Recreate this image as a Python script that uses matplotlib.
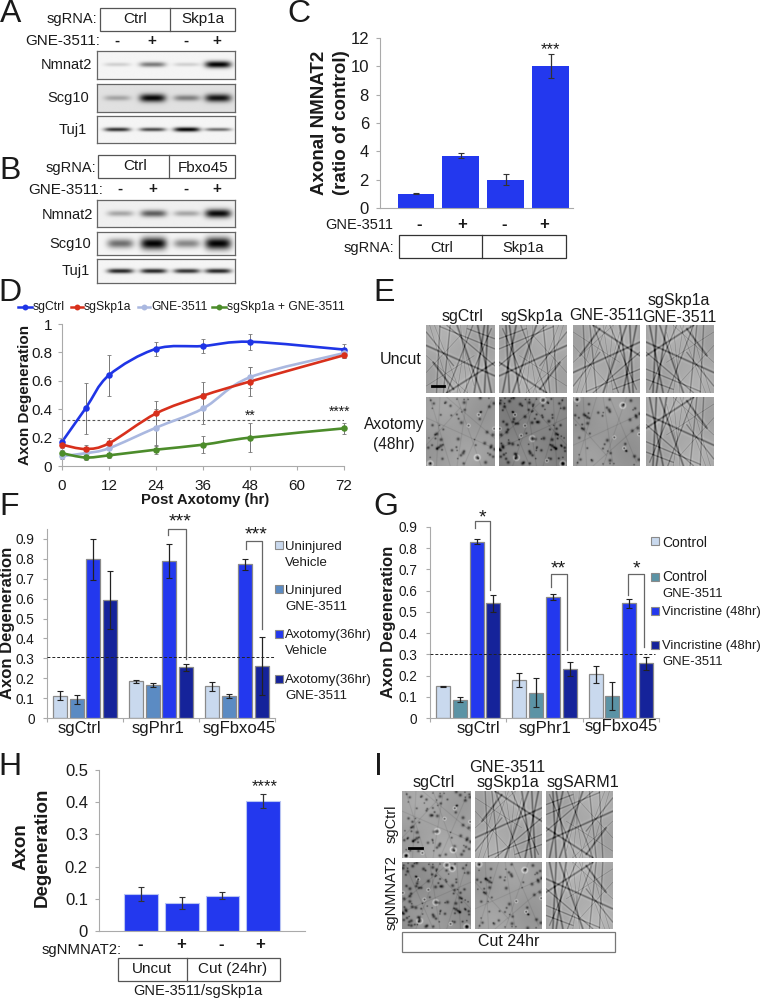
import matplotlib
matplotlib.use('Agg')
import matplotlib.pyplot as plt
import numpy as np
from matplotlib.path import Path
from matplotlib.patches import PathPatch, Rectangle

plt.rcParams['font.family'] = ['Liberation Sans', 'DejaVu Sans']

W, H = 762, 1000
BLUE = '#2338ee'
NAVY = '#15239a'
PALE = '#c9d9ee'
STEEL = '#5b8bc3'
TEAL = '#5b93a5'

# panel C
c_vals = [1, 3.7, 2, 10]
c_errs = [0.03, 0.15, 0.4, 0.85]
c_signs = ['-', '+', '-', '+']

# panel D
d_hours = [0, 6, 12, 24, 36, 48, 72]
d_ctrl = [0.17, 0.405, 0.64, 0.825, 0.845, 0.875, 0.82]
d_ctrl_err = [0.02, 0.18, 0.145, 0.05, 0.05, 0.055, 0.04]
d_skp = [0.15, 0.12, 0.16, 0.37, 0.495, 0.595, 0.78]
d_skp_err = [0.02, 0.03, 0.035, 0.09, 0.095, 0.1, 0.02]
d_gne = [0.07, 0.09, 0.125, 0.27, 0.405, 0.625, 0.795]
d_gne_err = [0.02, 0.03, 0.05, 0.13, 0.11, 0.075, 0.035]
d_both = [0.09, 0.06, 0.075, 0.115, 0.15, 0.2, 0.265]
d_both_err = [0.02, 0.02, 0.02, 0.03, 0.06, 0.1, 0.04]

# panel F
f_vals = [[0.113, 0.093, 0.797, 0.592], [0.185, 0.165, 0.79, 0.255], [0.16, 0.113, 0.772, 0.26]]
f_errs = [[0.022, 0.024, 0.105, 0.147], [0.007, 0.009, 0.085, 0.017], [0.022, 0.01, 0.028, 0.145]]

# panel G
g_vals = [[0.15, 0.087, 0.83, 0.54], [0.18, 0.12, 0.57, 0.233], [0.205, 0.105, 0.54, 0.258]]
g_errs = [[0.003, 0.012, 0.012, 0.04], [0.033, 0.068, 0.015, 0.033], [0.04, 0.065, 0.023, 0.03]]

# panel H
h_vals = [0.115, 0.087, 0.11, 0.405]
h_errs = [0.022, 0.02, 0.012, 0.022]

# blot band strength, 0 to 1, one value per lane
a_nmnat = [0.15, 0.5, 0.15, 1.0]
a_scg = [0.25, 0.9, 0.4, 0.85]
a_tuj = [0.8, 0.7, 1.0, 0.55]
b_nmnat = [0.3, 0.6, 0.3, 0.95]
b_scg = [0.55, 1.0, 0.45, 1.0]
b_tuj = [0.85, 0.85, 0.8, 0.85]

fig = plt.figure(figsize=(W / 100, H / 100), dpi=100, facecolor='white')


def px_axes(x0, y0, x1, y1, z=1):
    return fig.add_axes([x0 / W, 1 - y1 / H, (x1 - x0) / W, (y1 - y0) / H], zorder=z)


ov = px_axes(0, 0, W, H, z=10)
ov.set_xlim(0, W)
ov.set_ylim(H, 0)
ov.axis('off')
ov.patch.set_alpha(0)


def txt(x, y, s, size=10.5, ha='center', va='center', **kw):
    ov.text(x, y, s, fontsize=size, ha=ha, va=va, color=kw.pop('color', '#1a1a1a'), **kw)


def box(x0, y0, x1, y1, div=None, ec='#555555'):
    ov.add_patch(Rectangle((x0, y0), x1 - x0, y1 - y0, fc='white', ec=ec, lw=0.9))
    if div is not None:
        ov.plot([div, div], [y0, y1], color=ec, lw=0.9)


def blot(x0, y0, x1, y1, lanes, strengths, band_h=0.1, band_w=13, bg=0.96):
    ax = px_axes(x0, y0, x1, y1, z=2)
    xx, yy = np.meshgrid(np.arange(x0, x1, 0.5), np.linspace(0, 1, 80))
    img = np.full(xx.shape, bg)
    for cx, s in zip(lanes, strengths):
        prof = np.exp(-((xx - cx) / band_w) ** 4) * np.exp(-((yy - 0.5) / (band_h * (0.6 + 0.6 * s))) ** 2)
        img -= s * prof * 0.95
    ax.imshow(np.clip(img, 0, 1), cmap='gray', vmin=0, vmax=1, aspect='auto')
    ax.set_xticks([])
    ax.set_yticks([])
    for sp in ax.spines.values():
        sp.set_color('#666666')
        sp.set_linewidth(0.9)


# fibre pattern for the micrographs, in panel units
FIBRES = [(0.05, 0, 0.35, 1), (0.2, 0, 0.15, 1), (0.45, 0, 0.8, 1), (0.6, 0, 0.45, 1), (0.95, 0.05, 0.55, 1),
          (0, 0.3, 1, 0.75), (0, 0.7, 0.5, 0.15), (0.3, 0, 1, 0.6), (0.75, 0, 0.95, 1), (0, 0.9, 0.7, 0.45),
          (1, 0.2, 0.6, 0.05), (0.1, 0.55, 0.4, 0.95), (0.55, 0.35, 0.7, 0.9), (0.35, 0, 0.25, 1),
          (0.85, 0, 0.7, 1), (0.5, 0, 0.6, 1), (0, 0.1, 0.4, 0.6), (1, 0.55, 0.3, 1),
          (0.12, 0, 0.5, 1), (0.68, 0, 0.3, 1), (0.9, 0, 0.85, 1), (0, 0.45, 0.6, 1), (1, 0.35, 0.2, 0.02)]


def seg_dist(xx, yy, a, b, c, d):
    dx, dy = c - a, d - b
    t = np.clip(((xx - a) * dx + (yy - b) * dy) / (dx * dx + dy * dy), 0, 1)
    return np.hypot(xx - a - t * dx, yy - b - t * dy)


def micro(x0, y0, x1, y1, kind, flip=(1, 1), base=0.62, n=70):
    ax = px_axes(x0, y0, x1, y1, z=2)
    xx, yy = np.meshgrid(np.linspace(0, 1, 136), np.linspace(0, 1, 136))
    if flip[0] < 0:
        xx = 1 - xx
    if flip[1] < 0:
        yy = 1 - yy
    img = base + 0.035 * np.sin(5 * xx + 2 * yy) * np.cos(4 * yy - xx)
    if kind == 'fibre':
        for i, seg in enumerate(FIBRES):
            dist = seg_dist(xx, yy, *seg)
            width = 0.005 + 0.004 * (i % 3)
            img -= (0.2 + 0.05 * (i % 3)) * np.exp(-(dist / width) ** 2)
            img += 0.04 * np.exp(-((dist - 2.2 * width) / width) ** 2)
    else:
        for seg in FIBRES[:8]:
            img -= 0.07 * np.exp(-(seg_dist(xx, yy, *seg) / 0.007) ** 2)
        idx = np.arange(1, n + 1)
        xs = (idx * idx * 0.6180339) % 1
        ys = (idx * idx * idx * 0.4142136) % 1
        for i, (cx, cy) in enumerate(zip(xs, ys)):
            r2 = (xx - cx) ** 2 + (yy - cy) ** 2
            size = 0.011 + 0.004 * (i % 4)
            img -= 0.36 * np.exp(-r2 / size ** 2)
            if i % 14 == 0:
                img += 0.18 * np.exp(-((np.sqrt(r2) - 2.2 * size) / (0.6 * size)) ** 2)
    ax.imshow(np.clip(img, 0, 1), cmap='gray', vmin=0, vmax=1, aspect='auto')
    ax.set_xticks([])
    ax.set_yticks([])
    for sp in ax.spines.values():
        sp.set_visible(False)


def style_axes(ax, ymax, ticks, labels, size=11, pad=2):
    ax.set_ylim(0, ymax)
    ax.set_yticks(ticks, labels)
    ax.tick_params(axis='y', length=3, width=0.8, color='#aaaaaa', labelsize=size, pad=pad, labelcolor='#1a1a1a')
    ax.tick_params(axis='x', length=3, width=0.8, color='#aaaaaa', labelbottom=False)
    for s in ['top', 'right']:
        ax.spines[s].set_visible(False)
    for s in ['left', 'bottom']:
        ax.spines[s].set_color('#aaaaaa')
        ax.spines[s].set_linewidth(0.8)
    ax.patch.set_alpha(0)


def group_bars(ax, vals, errs, colors):
    offs = [-1.5, -0.5, 0.5, 1.5]
    for g, (vs, es) in enumerate(zip(vals, errs)):
        for o, v, e, col in zip(offs, vs, es, colors):
            ax.bar(g + o * 0.22, v, 0.185, color=col, edgecolor='#8a8a8a', lw=0.9,
                   yerr=e, ecolor='#222222', error_kw=dict(lw=0.9, capsize=2, capthick=0.8))


def bracket(x0, x1, top, left, right):
    ov.plot([x0, x0, x1, x1], [left, top, top, right], color='#666666', lw=0.9)


# ---- A
txt(11, 14, 'A', 23)
txt(97, 19, 'sgRNA:', 10.5, ha='right')
box(100, 8, 235, 31, 170)
txt(135, 19, 'Ctrl', 11)
txt(203, 19, 'Skp1a', 11)
txt(100, 41, 'GNE-3511:', 11, ha='right')
for x, s in zip([117, 152, 186, 217], c_signs):
    txt(x, 41, s, 11, fontweight='bold')
blot(97, 51, 235, 79, [117, 152, 186, 217], a_nmnat)
blot(97, 84, 235, 112, [117, 152, 186, 217], a_scg, band_h=0.13, bg=0.88)
blot(97, 116, 235, 143, [117, 152, 186, 217], a_tuj, band_h=0.07)
txt(92, 65, 'Nmnat2', 10.5, ha='right')
txt(89, 98, 'Scg10', 10.5, ha='right')
txt(87, 130, 'Tuj1', 10.5, ha='right')

# ---- B
txt(10, 171, 'B', 23)
txt(96, 168, 'sgRNA:', 10.5, ha='right')
box(98, 155, 235, 178, 169)
txt(135, 166, 'Ctrl', 11)
txt(203, 168, 'Fbxo45', 11)
txt(103, 190, 'GNE-3511:', 11, ha='right')
for x, s in zip([120, 153, 186, 217], c_signs):
    txt(x, 189, s, 11, fontweight='bold')
blot(97, 200, 235, 227, [120, 153, 186, 217], b_nmnat, band_h=0.14, bg=0.94)
blot(97, 232, 235, 255, [120, 153, 186, 217], b_scg, band_h=0.22)
blot(97, 259, 235, 283, [120, 153, 186, 217], b_tuj, band_h=0.09)
txt(93, 215, 'Nmnat2', 10.5, ha='right')
txt(91, 244, 'Scg10', 10.5, ha='right')
txt(90, 271, 'Tuj1', 10.5, ha='right')

# ---- C
txt(299, 14, 'C', 23)
ax = px_axes(380, 38, 573, 208)
ax.bar(range(4), c_vals, 0.82, color=BLUE, yerr=c_errs, ecolor='#333333',
       error_kw=dict(lw=0.9, capsize=2, capthick=0.8))
ax.set_xlim(-0.8, 3.5)
style_axes(ax, 12, [0, 2, 4, 6, 8, 10, 12], ['0', '2', '4', '6', '8', '10', '12'], 12, pad=5)
ax.set_xticks([])
txt(319, 123, 'Axonal NMNAT2', 13.5, rotation=90, fontweight='bold')
txt(342, 123, '(ratio of control)', 13.5, rotation=90, fontweight='bold')
txt(550, 50, '***', 12)
txt(393, 225, 'GNE-3511', 10.5, ha='right')
for x, s in zip([419, 462, 504, 544], c_signs):
    txt(x, 224, s, 12, fontweight='bold')
txt(394, 248, 'sgRNA:', 10.5, ha='right')
box(399, 235, 566, 258, 482, ec='#333333')
txt(442, 248, 'Ctrl')
txt(523, 248, 'Skp1a')


# ---- D
def smooth_line(ax, xs, ys, color, lw=1.9):
    # Excel style smoothed line through the points
    pts = np.column_stack([xs, ys])
    verts = [pts[0]]
    codes = [Path.MOVETO]
    for i in range(len(pts) - 1):
        p0 = pts[max(i - 1, 0)]
        p3 = pts[min(i + 2, len(pts) - 1)]
        verts += [pts[i] + (pts[i + 1] - p0) / 6, pts[i + 1] - (p3 - pts[i]) / 6, pts[i + 1]]
        codes += [Path.CURVE4] * 3
    ax.add_patch(PathPatch(Path(verts, codes), fc='none', ec=color, lw=lw, clip_on=False))


txt(10, 293, 'D', 23)
ax = px_axes(62, 324, 344, 466)
ax.set_xlim(0, 72)
style_axes(ax, 1, [0, 0.2, 0.4, 0.6, 0.8, 1], ['0', '0.2', '0.4', '0.6', '0.8', '1'], 11, pad=4)
ax.set_xticks(range(0, 73, 12))
ax.axhline(0.325, color='#555555', lw=0.8, ls=(0, (2.5, 2)), zorder=1)
d_series = [(d_ctrl, d_ctrl_err, '#1f35e6'), (d_gne, d_gne_err, '#aab8e0'),
            (d_skp, d_skp_err, '#d8301c'), (d_both, d_both_err, '#4c8c2b')]
for ys, es, col in d_series:
    ax.errorbar(d_hours, ys, yerr=es, fmt='none', ecolor='#777777', lw=0.7, capsize=1.5, capthick=0.6,
                clip_on=False, zorder=2)
for ys, es, col in d_series:
    smooth_line(ax, d_hours, ys, col)
    ax.scatter(d_hours, ys, s=22, color=col, clip_on=False, zorder=4, lw=0)
for h in range(0, 73, 12):
    txt(62 + h * 282 / 72, 486, str(h), 11)
txt(25, 395, 'Axon Degeneration', 11, rotation=90, fontweight='bold')
txt(205, 500, 'Post Axotomy (hr)', 10.7, fontweight='bold')
txt(250, 416, '**', 10)
txt(340, 412, '****', 10)
leg_x = [(18, 32, 33, 'sgCtrl', '#1f35e6'), (71, 83, 84, 'sgSkp1a', '#d8301c'),
         (138, 150, 151, 'GNE-3511', '#aab8e0'), (212, 226, 227, 'sgSkp1a + GNE-3511', '#4c8c2b')]
for x0, x1, xt, lab, col in leg_x:
    ov.plot([x0, x1], [307, 307], color=col, lw=1.8)
    ov.scatter([(x0 + x1) / 2], [307], s=18, color=col, lw=0)
    txt(xt, 307, lab, 8.7, ha='left')

# ---- E
txt(384, 293, 'E', 23)
e_cols = [(426, 495), (499, 567), (573, 640), (646, 714)]
e_flip = [(1, 1), (-1, 1), (1, -1), (-1, -1)]
for (x0, x1), fl in zip(e_cols, e_flip):
    micro(x0, 325, x1, 393, 'fibre', fl, 0.66)
for (x0, x1), fl, kind, base, n in zip(e_cols, e_flip, ['debris', 'debris', 'debris', 'fibre'],
                                       [0.62, 0.52, 0.6, 0.66], [70, 120, 60, 0]):
    micro(x0, 397, x1, 466, kind, fl, base, n=n)
ov.plot([432, 444], [386, 386], color='black', lw=2)
txt(463, 316, 'sgCtrl', 11.5)
txt(532, 316, 'sgSkp1a', 11.5)
txt(606, 316, 'GNE-3511', 11.5)
txt(679, 300, 'sgSkp1a', 11.5)
txt(679, 317, 'GNE-3511', 11.5)
txt(422, 360, 'Uncut', 11.5, ha='right')
txt(394, 425, 'Axotomy', 11.2)
txt(394, 444, '(48hr)', 11.2)

# ---- F
txt(9, 507, 'F', 23)
ax = px_axes(47, 529, 275, 718)
ax.set_xlim(-0.5, 2.5)
style_axes(ax, 0.95, [i / 10 for i in range(10)], ['0'] + ['0.%d' % i for i in range(1, 10)], 9.8, pad=6)
ax.set_xticks([-0.5, 0.5, 1.5, 2.5])
group_bars(ax, f_vals, f_errs, [PALE, STEEL, BLUE, NAVY])
ax.axhline(0.305, color='#222222', lw=0.7, ls=(0, (3, 2)), zorder=5)
txt(8, 623, 'Axon Degeneration', 12, rotation=90, fontweight='bold')
txt(79, 729, 'sgCtrl', 12)
txt(158, 729, 'sgPhr1', 12)
txt(239, 729, 'sgFbxo45', 12)
bracket(168, 186, 529, 535, 659)
bracket(246, 262, 541, 549, 629)
txt(180, 522, '***', 14)
txt(256, 535, '***', 14)
f_leg = [(545, [(547, 'Uninjured'), (563, 'Vehicle')], PALE), (589, [(591, 'Uninjured'), (607, 'GNE-3511')], STEEL),
         (634, [(635, 'Axotomy(36hr)'), (651, 'Vehicle')], BLUE), (679, [(680, 'Axotomy(36hr)'), (696, 'GNE-3511')], NAVY)]
for ys, rows, col in f_leg:
    ov.add_patch(Rectangle((275, ys - 4), 8, 8, fc=col, ec='#8a8a8a', lw=0.8))
    for y, lab in rows:
        txt(285, y, lab, 9.5, ha='left')

# ---- G
txt(386, 507, 'G', 23)
ax = px_axes(430, 527, 659, 718)
ax.set_xlim(-0.5, 2.5)
style_axes(ax, 0.9, [i / 10 for i in range(10)], ['0'] + ['0.%d' % i for i in range(1, 10)], 9.8, pad=6)
ax.set_xticks([-0.5, 0.5, 1.5, 2.5])
group_bars(ax, g_vals, g_errs, [PALE, TEAL, BLUE, NAVY])
ax.plot([-0.5, 2.45], [0.3, 0.3], color='#222222', lw=0.7, ls=(0, (3, 2)), zorder=5)
txt(388, 622, 'Axon Degeneration', 12, rotation=90, fontweight='bold')
txt(478, 728, 'sgCtrl', 12)
txt(545, 728, 'sgPhr1', 12)
txt(621, 727, 'sgFbxo45', 12)
bracket(475, 490, 521, 528, 590)
bracket(551, 567, 574, 587, 650)
bracket(628, 644, 574, 595, 647)
txt(482, 518, '*', 14)
txt(558, 569, '**', 14)
txt(636, 569, '*', 14)
g_leg = [(541, [(543, 'Control')], PALE), (577, [(577, 'Control'), (594, 'GNE-3511')], TEAL),
         (611, [(612, 'Vincristine (48hr)')], BLUE), (645, [(646, 'Vincristine (48hr)'), (662, 'GNE-3511')], NAVY)]
for ys, rows, col in g_leg:
    ov.add_patch(Rectangle((651, ys - 4), 8, 8, fc=col, ec='#8a8a8a', lw=0.8))
    for y, lab in rows:
        txt(662, y, lab, 10 if lab == 'Control' else 9.4, ha='left')

# ---- H
txt(10, 767, 'H', 23)
ax = px_axes(99, 770, 305, 931)
ax.bar(range(4), h_vals, 0.83, color=BLUE, edgecolor='#b8c4f2', lw=0.8, yerr=h_errs, ecolor='#333333',
       error_kw=dict(lw=0.9, capsize=2, capthick=0.8))
ax.set_xlim((99 - 141) / 40.7, (305 - 141) / 40.7)
style_axes(ax, 0.5, [0, 0.1, 0.2, 0.3, 0.4, 0.5], ['0', '0.1', '0.2', '0.3', '0.4', '0.5'], 12, pad=5)
ax.set_xticks([])
txt(21, 847, 'Axon', 13.5, rotation=90, fontweight='bold')
txt(42, 847, 'Degeneration', 13.5, rotation=90, fontweight='bold')
txt(265, 787, '****', 12)
txt(122, 950, 'sgNMNAT2:', 10.7, ha='right')
for x, s in zip([140, 181, 221, 260], c_signs):
    txt(x, 945, s, 12, fontweight='bold')
box(118, 958, 280, 981, 187)
txt(152, 969, 'Uncut', 11)
txt(233, 969, 'Cut (24hr)', 11)
txt(198, 991, 'GNE-3511/sgSkp1a', 10.5)

# ---- I
txt(378, 767, 'I', 23)
micro(402, 791, 470, 858, 'debris', (1, 1), 0.64, n=90)
micro(475, 791, 542, 858, 'fibre', (1, -1), 0.66)
micro(546, 791, 613, 858, 'fibre', (-1, 1), 0.66)
micro(402, 862, 470, 929, 'debris', (-1, 1), 0.58, n=130)
micro(475, 862, 542, 929, 'debris', (1, -1), 0.62, n=70)
micro(546, 862, 613, 929, 'fibre', (-1, -1), 0.68)
ov.plot([409, 422], [848, 848], color='black', lw=2)
txt(507, 767, 'GNE-3511', 11.8)
txt(434, 782, 'sgCtrl', 11.6)
txt(508, 782, 'sgSkp1a', 11.6)
txt(583, 782, 'sgSARM1', 11.6)
txt(392, 824, 'sgCtrl', 10.5, rotation=90)
txt(392, 893, 'sgNMNAT2', 10.5, rotation=90)
box(402, 932, 615, 952, ec='#777777')
txt(509, 942, 'Cut 24hr', 11.5)

fig.savefig('out.png', dpi=100)
